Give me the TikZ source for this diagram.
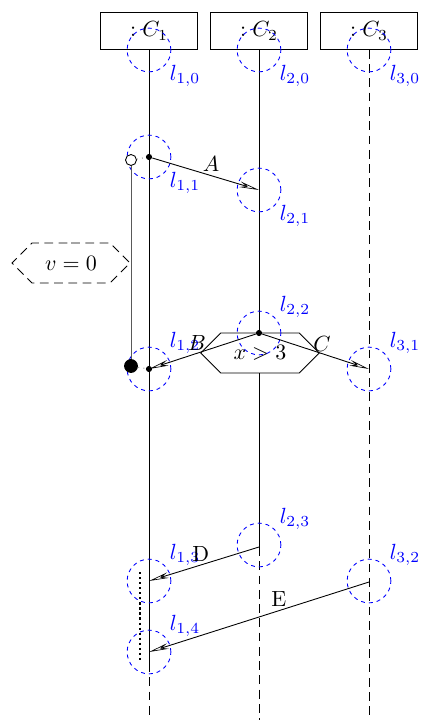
\documentclass[tikz,border=0pt]{standalone}
\usepackage{amsmath}
\usepackage{tikz}
\usetikzlibrary{positioning,arrows.meta,shapes.symbols}

\begin{document}
\begin{tikzpicture}[x=0.016cm,y=-0.016cm,
    inst/.style={draw,minimum width=1.55cm,minimum height=0.59cm,inner sep=0pt},
    loc/.style={circle,draw=blue,dash pattern=on 1.8pt off 1.8pt,minimum size=0.7cm,inner sep=0pt},
    lbl/.style={text=blue,inner sep=1pt},
    ev/.style={circle,fill=black,inner sep=0pt,minimum size=2.8pt},
    cond/.style={signal,signal to=east and west,signal pointer angle=90,draw,fill=white,
      minimum height=0.64cm,inner sep=1pt},
    msg/.style={-{Stealth[length=9pt,width=2.6pt,open,line width=0.3pt]}},
    lifedash/.style={dash pattern=on 4pt off 2.5pt}]
  \useasboundingbox (0,0) rectangle (424,720);

  % instance heads
  \node[inst] (h1) at (149,31) {$:C_1$};
  \node[inst] (h2) at (259,31) {$:C_2$};
  \node[inst] (h3) at (369,31) {$:C_3$};

  \coordinate (end1) at (149,663);
  \coordinate (end2) at (259,547);
  \coordinate (bot1) at (149,720);
  \coordinate (bot2) at (259,720);
  \coordinate (bot3) at (369,720);

  % lifelines
  \draw (h1.south) -- (end1);
  \draw[lifedash] (end1) -- (bot1);
  \draw (h2.south) -- (end2);
  \draw[lifedash] (end2) -- (bot2);
  \draw[lifedash] (h3.south) -- (bot3);

  % conditions
  \node[cond,minimum width=1.9cm] (xc) at (260,353) {$x>3$};
  \node[cond,dash pattern=on 4pt off 2.5pt,minimum width=1.89cm] (vc) at (71,263) {$v=0$};

  % locations
  \node[loc,label={[lbl]-35:$l_{1,0}$}] (l10) at (149,50) {};
  \node[loc,label={[lbl]-35:$l_{2,0}$}] (l20) at (259,50) {};
  \node[loc,label={[lbl]-35:$l_{3,0}$}] (l30) at (369,50) {};
  \node[loc,label={[lbl]-35:$l_{1,1}$}] (l11) at (149,157) {};
  \node[loc,label={[lbl]-35:$l_{2,1}$}] (l21) at (259,190) {};
  \node[loc,label={[lbl]35:$l_{2,2}$}] (l22) at (259,333) {};
  \node[loc,label={[lbl]35:$l_{1,2}$}] (l12) at (149,369) {};
  \node[loc,label={[lbl]35:$l_{3,1}$}] (l31) at (369,369) {};
  \node[loc,label={[lbl]35:$l_{2,3}$}] (l23) at (259,545) {};
  \node[loc,label={[lbl]35:$l_{1,3}$}] (l13) at (149,581) {};
  \node[loc,label={[lbl]35:$l_{3,2}$}] (l32) at (369,581) {};
  \node[loc,label={[lbl]35:$l_{1,4}$}] (l14) at (149,652) {};

  % events
  \node[ev] (e11) at (149,157) {};
  \node[ev] (e22) at (259,333) {};
  \node[ev] (e12) at (149,369) {};
  \coordinate (e23) at (259,547);
  \coordinate (e32) at (369,582);

  % timer
  \node[circle,draw,fill=white,inner sep=0pt,minimum size=5pt] (t0) at (131,160) {};
  \node[circle,fill=black,inner sep=0pt,minimum size=6.3pt] (t1) at (131,366) {};
  \draw[gray!70!black] (t0) -- (t1);
  \draw[gray,dotted] (t0) -- (e11);
  \draw[gray,dotted] (t1) -- (e12);

  % messages
  \draw[msg] (e11) -- node[pos=0.55,above,inner sep=1.5pt] {$A$} (l21.center);
  \draw[msg] (e22) -- node[pos=0.55,above,inner sep=1pt] {$B$} (l12.center);
  \draw[msg] (e22) -- node[pos=0.56,above,inner sep=1pt] {$C$} (l31.center);
  \draw[msg] (e23) -- node[pos=0.53,above,inner sep=1.5pt] {D} (l13.center);
  \draw[msg] (e32) -- node[pos=0.41,above,inner sep=1.5pt] {E} (l14.center);

  % coregion
  \coordinate (k0) at (140,572);
  \coordinate (k1) at (140,662);
  \draw[line width=1pt,dash pattern=on 1pt off 1.3pt] (k0) -- (k1);
\end{tikzpicture}
\end{document}
